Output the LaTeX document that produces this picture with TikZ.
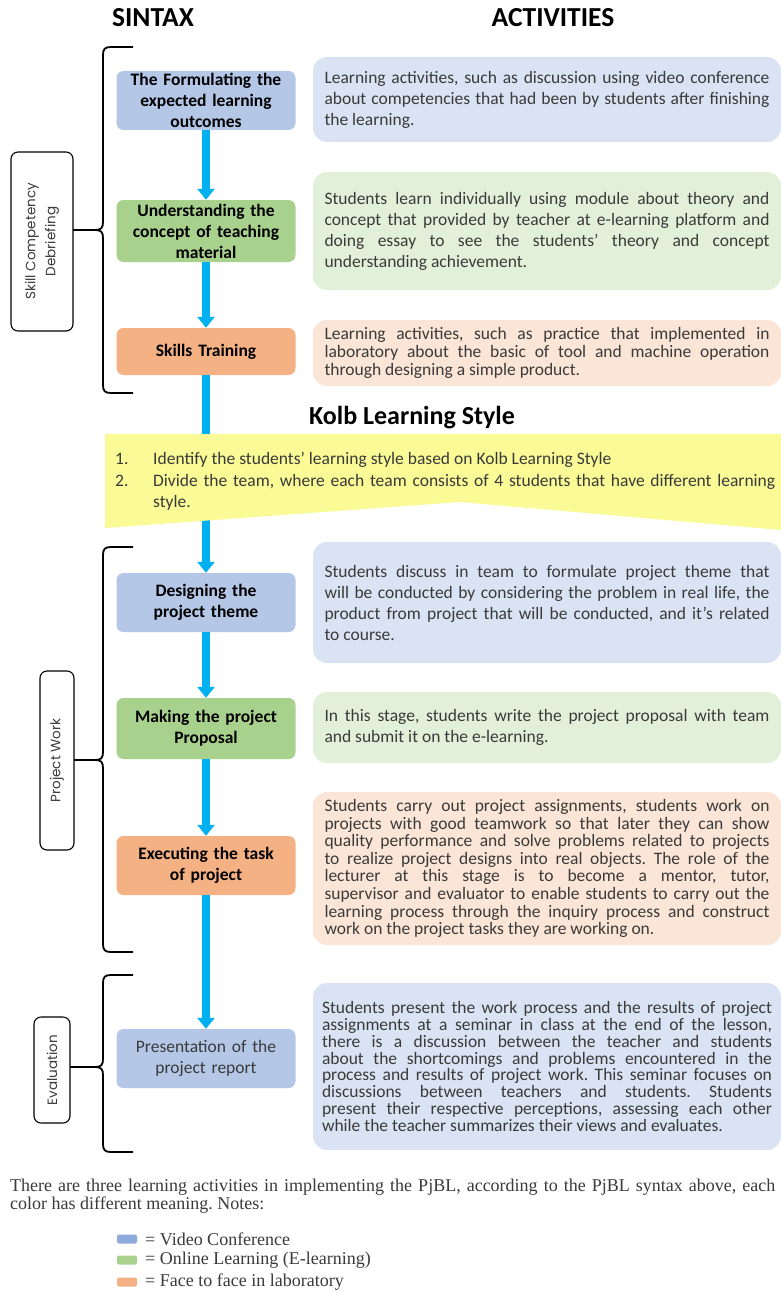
\documentclass[tikz,border=0pt]{standalone}
\usepackage{fontspec}
\setmainfont{Carlito}
\newfontfamily\notesfont{Liberation Serif}
\newfontfamily\labelfont{Poppins}
\usetikzlibrary{arrows.meta}
\frenchspacing
\definecolor{stblue}{HTML}{B4C7E7}
\definecolor{stgreen}{HTML}{A9D18E}
\definecolor{storange}{HTML}{F4B183}
\definecolor{acblue}{HTML}{DAE3F3}
\definecolor{acgreen}{HTML}{E2F0D9}
\definecolor{acorange}{HTML}{FBE5D6}
\definecolor{lgblue}{HTML}{8EA9DB}
\definecolor{band}{HTML}{FAFA96}
\definecolor{flow}{HTML}{00B0F0}
\definecolor{txt}{HTML}{3A3A3A}
\newcommand{\pjbrace}[4]{%
  \draw[braceline] (#4,#3) -- (95,#3)
    .. controls (101,#3) and (103,#3-2) .. (103,#3-8)
    -- (103,#1+8) .. controls (103,#1+2) and (105,#1) .. (111,#1) -- (133,#1);
  \draw[braceline] (95,#3)
    .. controls (101,#3) and (103,#3+2) .. (103,#3+8)
    -- (103,#2-8) .. controls (103,#2-2) and (105,#2) .. (111,#2) -- (133,#2);
}
\begin{document}
\frenchspacing
\begin{tikzpicture}[x=1pt,y=-1pt,
  stagebox/.style={rounded corners=7pt, text width=179pt, inner sep=0pt, align=center,
    font=\fontsize{17.5}{21}\selectfont\bfseries, text=black},
  actbox/.style={rounded corners=14pt, text width=445pt, inner xsep=11.5pt, inner ysep=0pt,
    minimum width=468pt, align=justify, text=txt, font=\fontsize{17.5}{21}\selectfont\frenchspacing},
  labelbox/.style={draw=black, line width=1.1pt, rounded corners=7pt, fill=white, rotate=90,
    inner sep=0pt, align=center, text=txt, font=\labelfont\fontsize{13.5}{20}\selectfont},
  braceline/.style={line width=1.8pt, black},
  flowarrow/.style={line width=8pt, flow, -{Triangle[length=11pt,width=17pt]}},
  title/.style={font=\fontsize{27.5}{30}\selectfont\bfseries, inner sep=0pt},
  legsq/.style={rounded corners=2pt, minimum width=20pt, minimum height=9pt, inner sep=0pt},
  legtxt/.style={anchor=west, inner sep=0pt, font=\notesfont\fontsize{18}{17}\selectfont, text=txt}
]
\useasboundingbox (0,0) rectangle (781,1292);
\fill[white] (0,0) rectangle (781,1292);

% titles
\node[title] (tsin) at (153,18) {SINTAX};
\node[title] (tact) at (553,18) {ACTIVITIES};

% stage boxes
\node[stagebox, fill=stblue, minimum height=59pt] (b1) at (206,100.5) {The Formulating the\\expected learning\\outcomes};
\node[stagebox, fill=stgreen, minimum height=62pt] (b2) at (206,231) {Understanding the\\concept of teaching\\material};
\node[stagebox, fill=storange, minimum height=47pt] (b3) at (206,351.5) {Skills Training};
\node[stagebox, fill=stblue, minimum height=59pt] (b4) at (206,602.5) {Designing the\\project theme};
\node[stagebox, fill=stgreen, minimum height=61pt] (b5) at (206,728.5) {Making the project\\Proposal};
\node[stagebox, fill=storange, minimum height=59pt] (b6) at (206,865.5) {Executing the task\\of project};
\node[stagebox, fill=stblue, minimum height=59pt, font=\fontsize{17.5}{21}\selectfont, text=txt] (b7) at (206,1058.5) {Presentation of the\\project report};

% arrows
\draw[flowarrow] (b1.south) -- (b2.north);
\draw[flowarrow] (b2.south) -- (b3.north);
\draw[flowarrow] (b3.south) -- (b4.north);
\draw[flowarrow] (b4.south) -- (b5.north);
\draw[flowarrow] (b5.south) -- (b6.north);
\draw[flowarrow] (b6.south) -- (b7.north);

% Kolb band
\fill[band] (105,434) -- (781,434) -- (781,530) -- (460,502) -- (105,528) -- cycle;
\node[font=\fontsize{26}{28}\selectfont\bfseries, inner sep=0pt] (kolb) at (412,418) {Kolb Learning Style};
\node[anchor=north west, inner sep=0pt, text width=660pt, align=justify, text=txt,
  font=\fontsize{17.5}{21.5}\selectfont] (kolbtxt) at (115,452)
  {\parindent=0pt\makebox[38pt][l]{1.}Identify the students’ learning style based on Kolb Learning Style\par
   \hangindent=38pt\hangafter=1\makebox[38pt][l]{2.}Divide the team, where each team consists of 4 students that have different learning\linebreak style.\par};

% activity boxes
\node[actbox, fill=acblue, minimum height=85pt] (a1) at (547,99.5)
  {Learning activities, such as discussion using video conference\linebreak about competencies that had been by students after finishing\linebreak the learning.};
\node[actbox, fill=acgreen, minimum height=118pt] (a2) at (547,231)
  {Students learn individually using module about theory and\linebreak concept that provided by teacher at e-learning platform and\linebreak doing essay to see the students’ theory and concept\linebreak understanding achievement.};
\node[actbox, fill=acorange, minimum height=66pt, font=\fontsize{17.5}{18}\selectfont] (a3) at (547,353)
  {Learning activities, such as practice that implemented in\linebreak laboratory about the basic of tool and machine operation\linebreak through designing a simple product.};
\node[actbox, fill=acblue, minimum height=121pt] (a4) at (547,602.5)
  {Students discuss in team to formulate project theme that\linebreak will be conducted by considering the problem in real life, the\linebreak product from project that will be conducted, and it’s related\linebreak to course.};
\node[actbox, fill=acgreen, minimum height=71pt] (a5) at (547,727.5)
  {In this stage, students write the project proposal with team\linebreak and submit it on the e-learning.};
\node[actbox, fill=acorange, minimum height=153pt, font=\fontsize{17.5}{17.6}\selectfont] (a6) at (547,868.5)
  {Students carry out project assignments, students work on\linebreak projects with good teamwork so that later they can show\linebreak quality performance and solve problems related to projects\linebreak to realize project designs into real objects. The role of the\linebreak lecturer at this stage is to become a mentor, tutor,\linebreak supervisor and evaluator to enable students to carry out the\linebreak learning process through the inquiry process and construct\linebreak work on the project tasks they are working on.};
\node[actbox, fill=acblue, minimum height=167pt, text width=450pt, inner xsep=9pt, font=\fontsize{17.5}{16.9}\selectfont] (a7) at (547,1066.5)
  {Students present the work process and the results of project\linebreak assignments at a seminar in class at the end of the lesson,\linebreak there is a discussion between the teacher and students\linebreak about the shortcomings and problems encountered in the\linebreak process and results of project work. This seminar focuses on\linebreak discussions between teachers and students. Students\linebreak present their respective perceptions, assessing each other\linebreak while the teacher summarizes their views and evaluates.};

% phase labels
\node[labelbox, minimum width=179pt, minimum height=62pt] (skill) at (42,241.5) {Skill Competency\\Debriefing};
\node[labelbox, minimum width=179pt, minimum height=34pt] (pwork) at (57,760.5) {Project Work};
\node[labelbox, minimum width=106pt, minimum height=36pt] (eval) at (52,1070) {Evaluation};

% braces
\pjbrace{47}{393}{230}{73}
\pjbrace{547}{952}{760}{74}
\pjbrace{975}{1152}{1067}{70}

% notes
\node[anchor=north west, inner sep=0pt, text width=765pt, align=justify, text=txt,
  font=\notesfont\fontsize{18}{16.5}\selectfont] (notes) at (10,1179)
  {There are three learning activities in implementing the PjBL, according to the PjBL syntax above, each\linebreak color has different meaning. Notes:};
\node[legsq, fill=lgblue] (q1) at (127,1239) {};
\node[legsq, fill=stgreen] (q2) at (127,1260) {};
\node[legsq, fill=storange] (q3) at (127,1282) {};
\node[legtxt] (l1) at (145,1239) {= Video Conference};
\node[legtxt] (l2) at (145,1260) {= Online Learning (E-learning)};
\node[legtxt] (l3) at (145,1282) {= Face to face in laboratory};
\end{tikzpicture}
\end{document}
